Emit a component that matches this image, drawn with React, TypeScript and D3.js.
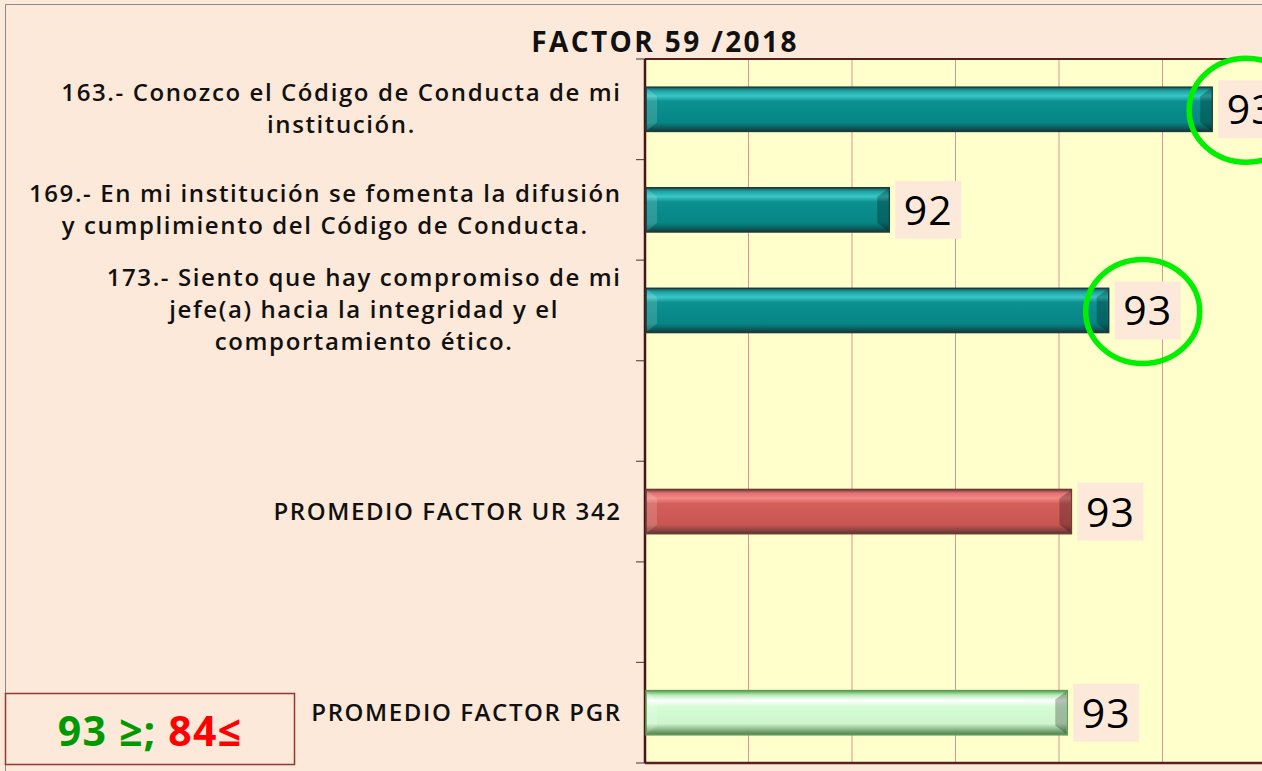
import * as d3 from "d3";
import { useEffect, useRef } from "react";

// chart data
const categories = [
  ["163.- Conozco el Código de Conducta de mi", "institución."],
  ["169.- En mi institución se fomenta la difusión", "y cumplimiento del Código de Conducta."],
  ["173.- Siento que hay compromiso de mi", "jefe(a) hacia la integridad y el", "comportamiento ético."],
  [],
  ["PROMEDIO FACTOR UR 342"],
  [],
  ["PROMEDIO FACTOR PGR"],
];
const values = [93.27, 92.49, 93.02, null, 92.93, null, 92.92];
const kinds = ["item", "item", "item", null, "ur", null, "pgr"];
const circled = [true, false, true, false, false, false, false];
const gridValues = [92.15, 92.4, 92.65, 92.9, 93.15, 93.4];
const domain = [91.9, 93.4];
const title = "FACTOR 59 /2018";

export default function App() {
  const ref = useRef<SVGSVGElement>(null);

  useEffect(() => {
    const width = 1262;
    const height = 771;
    const plot = { left: 645, right: 1266, top: 59, bottom: 763 };
    const labelFont = "'Open Sans', sans-serif";

    const svg = d3.select(ref.current);
    svg.selectAll("*").remove();
    svg.attr("width", width).attr("height", height);

    const defs = svg.append("defs");
    const grad = (id: string, stops: [number, string][]) => {
      const g = defs.append("linearGradient").attr("id", id)
        .attr("x1", 0).attr("y1", 0).attr("x2", 0).attr("y2", 1);
      stops.forEach(([o, c]) => g.append("stop").attr("offset", o).attr("stop-color", c));
    };
    grad("g-item", [[0, "#1f4f4f"], [0.08, "#1aa3a3"], [0.2, "#3cc6c6"], [0.32, "#0c9090"], [0.8, "#078585"], [0.92, "#0b5c5c"], [1, "#1a3333"]]);
    grad("g-ur", [[0, "#6e3b37"], [0.08, "#e07070"], [0.2, "#f58a86"], [0.32, "#d35f5b"], [0.8, "#c95652"], [0.92, "#8c4440"], [1, "#5a3431"]]);
    grad("g-pgr", [[0, "#5f9e5a"], [0.1, "#b5ecb5"], [0.22, "#ffffff"], [0.36, "#d6fcd6"], [0.75, "#cff5cf"], [0.9, "#7fae7c"], [1, "#4f7d4c"]]);
    const strokes: Record<string, string> = { item: "#1c3d3d", ur: "#6b3c38", pgr: "#5f9e5a" };

    // background
    svg.append("rect").attr("width", width).attr("height", height).attr("fill", "#fde9d9");
    svg.append("path").attr("d", `M5.5,${height}V4.5H${width}`).attr("fill", "none").attr("stroke", "#8a8a8a");

    const x = d3.scaleLinear().domain(domain).range([plot.left, plot.right]);
    const y = d3.scaleBand<number>()
      .domain(d3.range(categories.length))
      .range([plot.top, plot.bottom])
      .paddingInner(0.56)
      .paddingOuter(0.28);
    const step = y.step();

    // plot area
    svg.append("rect")
      .attr("x", plot.left).attr("y", plot.top)
      .attr("width", plot.right - plot.left + 10).attr("height", plot.bottom - plot.top)
      .attr("fill", "#ffffcc");

    svg.append("g").selectAll("line")
      .data(gridValues)
      .join("line")
      .attr("x1", d => x(d)).attr("x2", d => x(d))
      .attr("y1", plot.top).attr("y2", plot.bottom)
      .attr("stroke", "#d99694").attr("stroke-width", 1);

    // category ticks
    svg.append("g").selectAll("line")
      .data(d3.range(categories.length + 1))
      .join("line")
      .attr("x1", plot.left - 9).attr("x2", plot.left)
      .attr("y1", i => plot.top + i * step).attr("y2", i => plot.top + i * step)
      .attr("stroke", "#555").attr("stroke-width", 1.2);

    // axis frame
    svg.append("line").attr("x1", plot.left).attr("x2", width).attr("y1", plot.top).attr("y2", plot.top)
      .attr("stroke", "#5c1f1f").attr("stroke-width", 2);
    svg.append("line").attr("x1", plot.left).attr("x2", width).attr("y1", plot.bottom).attr("y2", plot.bottom)
      .attr("stroke", "#5c1f1f").attr("stroke-width", 2.5);
    svg.append("line").attr("x1", plot.left).attr("x2", plot.left).attr("y1", plot.top).attr("y2", plot.bottom)
      .attr("stroke", "#4a1414").attr("stroke-width", 2.5);

    const rows = d3.range(categories.length).filter(i => values[i] != null);

    // bars
    svg.append("g").selectAll("rect")
      .data(rows)
      .join("rect")
      .attr("x", plot.left + 1)
      .attr("y", i => y(i)!)
      .attr("width", i => x(values[i]!) - plot.left - 1)
      .attr("height", y.bandwidth())
      .attr("fill", i => `url(#g-${kinds[i]})`)
      .attr("stroke", i => strokes[kinds[i]!])
      .attr("stroke-width", 1.5);

    // bevels on both ends
    svg.append("g").selectAll("path")
      .data(rows)
      .join("path")
      .attr("d", i => {
        const xe = x(values[i]!);
        const y0 = y(i)!;
        const h = y.bandwidth();
        return `M${xe - 1},${y0 + 1}L${xe - 1},${y0 + h - 1}L${xe - 12},${y0 + h - 9}L${xe - 12},${y0 + 9}Z`;
      })
      .attr("fill", "#000").attr("opacity", 0.25);
    svg.append("g").selectAll("path")
      .data(rows)
      .join("path")
      .attr("d", i => {
        const xs = plot.left + 2;
        const y0 = y(i)!;
        const h = y.bandwidth();
        return `M${xs},${y0 + 1}L${xs},${y0 + h - 1}L${xs + 10},${y0 + h - 9}L${xs + 10},${y0 + 9}Z`;
      })
      .attr("fill", "#fff").attr("opacity", 0.15);

    // value labels
    const fmt = d3.format(".0f");
    const lab = svg.append("g").selectAll("g")
      .data(rows)
      .join("g")
      .attr("transform", i => `translate(${x(values[i]!) + 6},${y(i)! + y.bandwidth() / 2})`);
    lab.append("rect").attr("x", 0).attr("y", -29).attr("width", 66).attr("height", 58).attr("fill", "#fde9d9");
    lab.append("text")
      .attr("x", 33).attr("y", 15)
      .attr("text-anchor", "middle")
      .attr("font-family", labelFont)
      .attr("font-weight", 500)
      .attr("font-size", 41)
      .attr("letter-spacing", 1)
      .attr("fill", "#000")
      .text(i => fmt(values[i]!));

    // highlight circles
    svg.append("g").selectAll("ellipse")
      .data(rows.filter(i => circled[i]))
      .join("ellipse")
      .attr("cx", i => x(values[i]!) + 34)
      .attr("cy", i => y(i)! + y.bandwidth() / 2 + 1)
      .attr("rx", 57).attr("ry", 52)
      .attr("fill", "none").attr("stroke", "#00f000").attr("stroke-width", 5.5);

    // category labels (centered block, right aligned to the axis)
    const lineH = 32;
    const ls = 1.6;
    categories.forEach((lines, i) => {
      if (!lines.length) return;
      const cy = plot.top + (i + 0.5) * step;
      const g = svg.append("g");
      const texts = g.selectAll("text")
        .data(lines)
        .join("text")
        .attr("y", (_, k) => cy + 8 + (k - (lines.length - 1) / 2) * lineH)
        .attr("font-family", labelFont)
        .attr("font-weight", 600)
        .attr("font-size", 24)
        .attr("letter-spacing", ls)
        .attr("fill", "#111")
        .attr("text-anchor", "middle")
        .text(d => d);
      let maxW = 0;
      texts.each(function () {
        maxW = Math.max(maxW, (this as SVGTextElement).getComputedTextLength());
      });
      texts.attr("x", 620 + ls - maxW / 2);
    });

    // title
    svg.append("text")
      .attr("x", 665).attr("y", 52)
      .attr("text-anchor", "middle")
      .attr("font-family", labelFont)
      .attr("font-weight", 700)
      .attr("font-size", 28)
      .attr("letter-spacing", 2.4)
      .attr("fill", "#111")
      .text(title);

    // threshold box
    svg.append("rect").attr("x", 5.5).attr("y", 693.5).attr("width", 289).attr("height", 71)
      .attr("fill", "#fde9d9").attr("stroke", "#953735").attr("stroke-width", 1.5);
    const t = svg.append("text")
      .attr("x", 150).attr("y", 746)
      .attr("text-anchor", "middle")
      .attr("font-family", labelFont)
      .attr("font-weight", 700)
      .attr("font-size", 41)
      .attr("letter-spacing", 1.2);
    t.append("tspan").attr("fill", "#009a00").text("93 ≥; ");
    t.append("tspan").attr("fill", "#ff0000").text("84≤");
  }, []);

  return (
    <svg ref={ref} style={{ position: "absolute", left: 0, top: 0, display: "block" }} />
  );
}
